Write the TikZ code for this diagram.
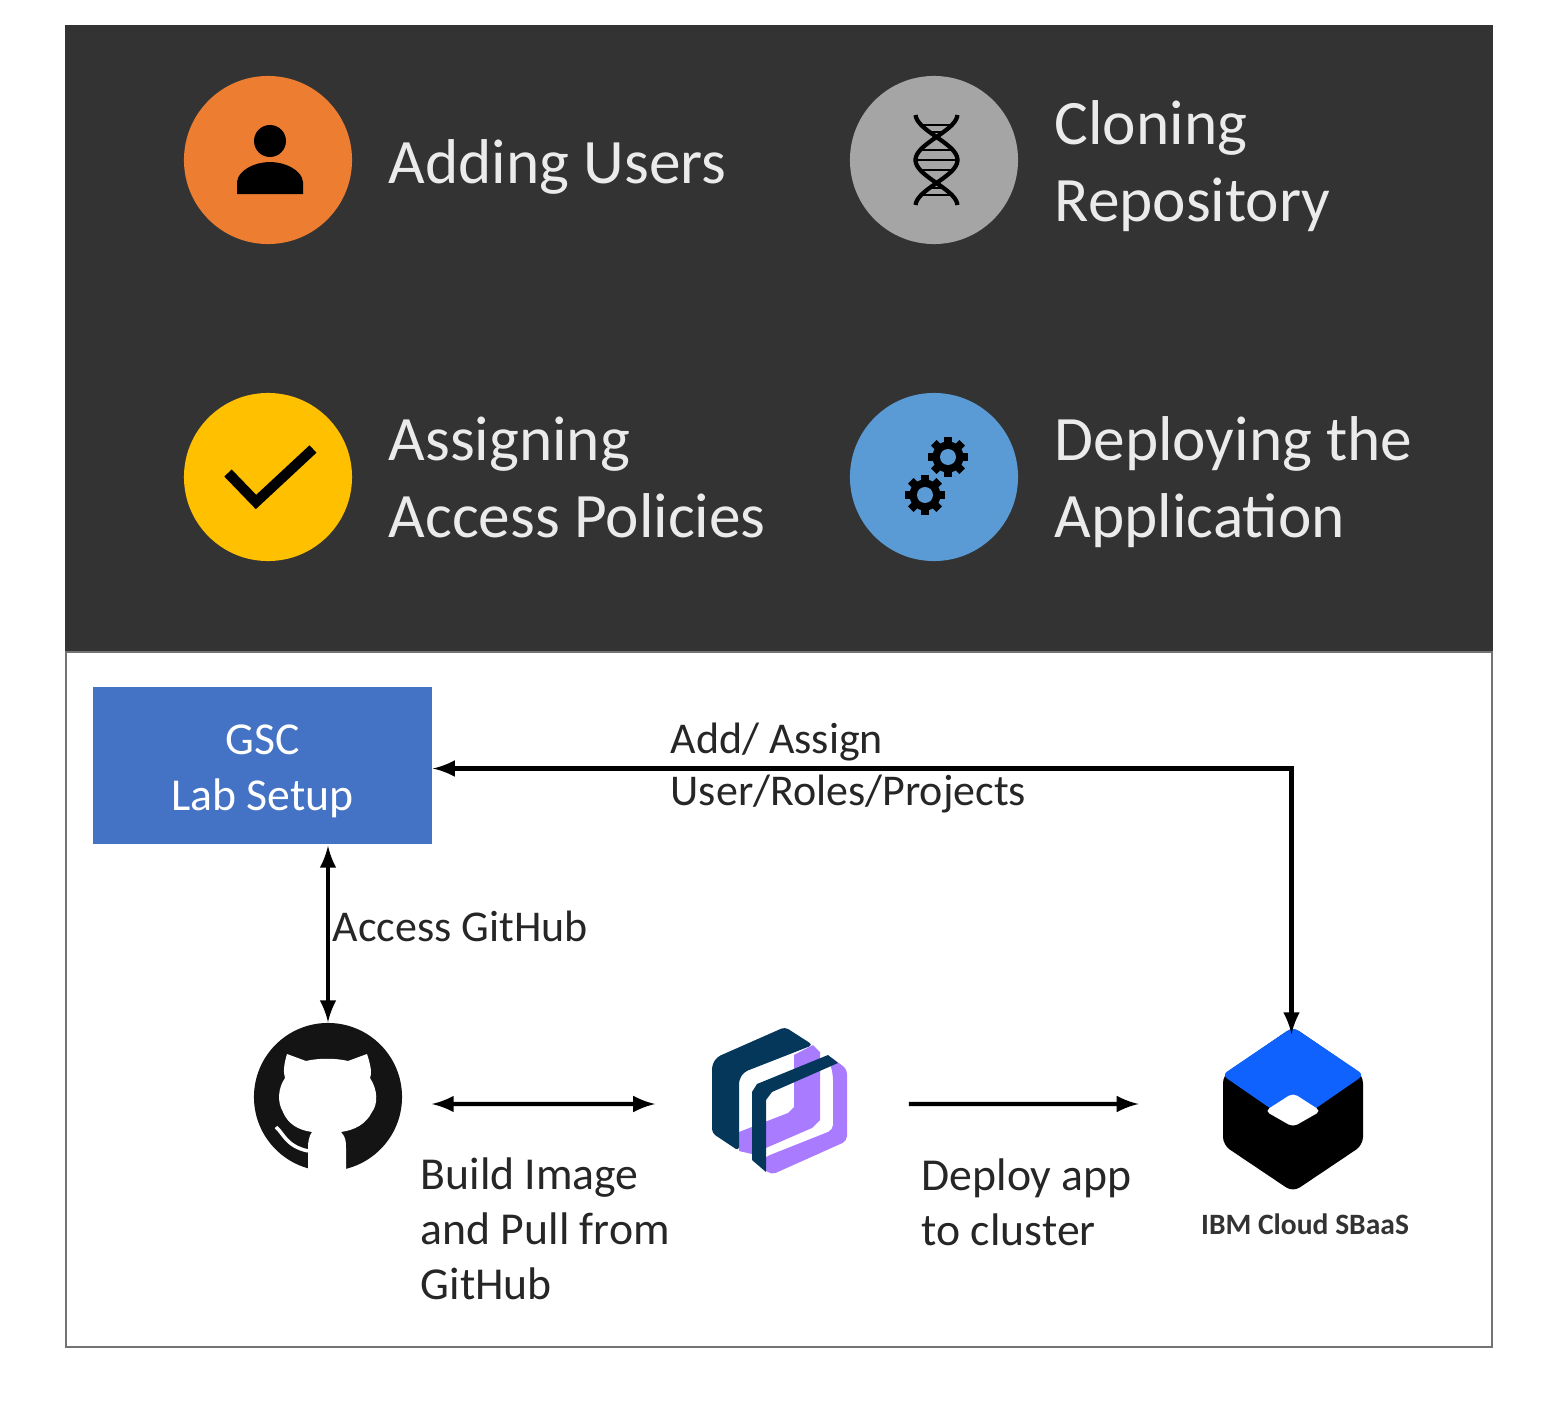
\documentclass[tikz,border=0pt]{standalone}
\usepackage{fontspec}
\setmainfont{Carlito}
\usetikzlibrary{arrows,positioning}
\definecolor{panel}{HTML}{333333}
\definecolor{usersorange}{HTML}{ED7D31}
\definecolor{clonegray}{HTML}{A5A5A5}
\definecolor{policyyellow}{HTML}{FFC000}
\definecolor{deployblue}{HTML}{5B9BD5}
\definecolor{gscblue}{HTML}{4472C4}
\definecolor{ibmblue}{HTML}{0F62FE}
\definecolor{quaydark}{HTML}{05375B}
\definecolor{quaypurple}{HTML}{A97BFF}
\tikzset{
 badge/.style={circle,minimum size=1.68cm,inner sep=0pt,fill=#1},
 bigtext/.style={anchor=west,align=left,inner sep=0pt,text=white!92!black,font=\fontsize{18}{21.9}\selectfont},
 smalltext/.style={anchor=west,align=left,inner sep=0pt,text=black!85,font=\fontsize{13}{15.6}\selectfont},
 slimtext/.style={smalltext,font=\fontsize{12.5}{15}\selectfont},
 logobox/.style={inner sep=0pt,minimum width=#1},
 link/.style={line width=1.15pt,>=latex},
 tooth/.style={fill=black},
}
\begin{document}
\begin{tikzpicture}[x=0.01cm,y=-0.01cm]
 \useasboundingbox (0,0) rectangle (1556,1406);
 % panels
 \fill[panel] (65,25) rectangle (1493,651);
 \draw[black!55,line width=0.6pt] (66,652) rectangle (1492,1347);

 % top legend
 \node[badge=usersorange] (users) at (268,160) {};
 \node[badge=clonegray] (clone) at (934,160) {};
 \node[badge=policyyellow] (policy) at (268,477) {};
 \node[badge=deployblue] (deploy) at (934,477) {};
 \node[bigtext] (userstxt) at (388,167) {Adding Users};
 \node[bigtext] (clonetxt) at (1054,166) {Cloning\\Repository};
 \node[bigtext] (policytxt) at (388,477) {Assigning\\Access Policies};
 \node[bigtext] (deploytxt) at (1054,482) {Deploying the\\Application};

 % person
 \fill (270,141) circle [radius=16];
 \fill (237,194) -- (237,182) .. controls (238,170) and (255,162) .. (270,162) .. controls (285,162) and (302,170) .. (303,182) -- (303,194) -- cycle;
 % dna
 \draw[line width=1.2pt] plot[domain=115:205,samples=40] ({936.5+21*cos((\x-160)*3.91)},\x);
 \draw[line width=1.2pt] plot[domain=115:205,samples=40] ({936.5-21*cos((\x-160)*3.91)},\x);
 \draw[line width=0.8pt] (920,125)--(953,125) (928,132)--(945,132) (919,150)--(954,150) (916,160)--(957,160) (919,170)--(954,170) (928,188)--(945,188) (920,195)--(953,195);
 % check
 \draw[line width=2.9pt] (228,473) -- (256,502) -- (313,449);
 % gears
 \foreach \a in {0,45,...,315} {
  \fill[tooth,rotate around={\a:(948,457)}] (944,437) rectangle (952,446);
  \fill[tooth,rotate around={\a:(925,495)}] (921,475) rectangle (929,484);
 }
 \fill (948,457) circle [radius=15.5];
 \fill (925,495) circle [radius=15.5];
 \fill[deployblue] (948,457) circle [radius=8];
 \fill[deployblue] (925,495) circle [radius=8];

 % lab setup box
 \node[fill=gscblue,text=white,minimum width=3.39cm,minimum height=1.57cm,inner sep=0pt,align=center,font=\fontsize{13}{15.8}\selectfont] (gsc) at (262.5,765.5) {\rule{0pt}{0.41cm}GSC\\Lab Setup};

 % github
 \node[circle,fill=black!92,minimum size=1.48cm,inner sep=0pt] (ghub) at (328,1097) {};
 \fill[white] (287,1054) -- (306,1061) .. controls (318,1058) and (336,1058) .. (348,1061) -- (367,1054) .. controls (371,1066) and (372,1074) .. (370,1078) .. controls (378,1090) and (378,1104) .. (372,1112) .. controls (366,1124) and (355,1130) .. (341,1132) .. controls (346,1137) and (346,1142) .. (346,1148) -- (346,1172) -- (308,1172) -- (308,1148) .. controls (308,1142) and (309,1136) .. (312,1132) .. controls (298,1130) and (288,1124) .. (283,1112) .. controls (277,1102) and (278,1088) .. (285,1078) .. controls (283,1072) and (284,1064) .. (287,1054) -- cycle;
 \draw[white,line width=1pt] (276,1127) .. controls (284,1134) and (286,1146) .. (308,1151);

 % quay
 \node[logobox=1.36cm,minimum height=1.48cm] (quay) at (779,1102) {};
 \fill[quaypurple] (813,1045) -- (820,1052) -- (820,1120) -- (812,1128) -- (752,1154) -- (739,1151) -- (739,1132) -- (788,1113) -- (794,1107) -- (794,1055) -- cycle;
 \fill[quaydark,rounded corners=0.04cm] (785,1027) -- (717,1057) -- (712,1065) -- (712,1133) -- (739,1151) -- (739,1080) -- (744,1072) -- (813,1045) -- cycle;
 \fill[quaypurple,rounded corners=0.05cm] (828,1055) -- (847,1069) -- (847,1141) -- (771,1175) -- (760,1165) -- (765,1157) -- (833,1130) -- (833,1075) -- cycle;
 \fill[quaydark] (828,1055) -- (838,1063) -- (772,1092) -- (766,1100) -- (766,1172) -- (752,1160) -- (752,1092) -- (757,1084) -- cycle;

 % sbaas
 \node[logobox=1.40cm,minimum height=1.55cm] (sbaas) at (1291.5,1112.5) {};
 \fill[rounded corners=0.08cm] (1293,1027) -- (1363,1075) -- (1363,1145) -- (1293,1192) -- (1223,1145) -- (1223,1075) -- cycle;
 \fill[ibmblue,rounded corners=0.06cm] (1293,1027) -- (1364,1075) -- (1293,1124) -- (1222,1075) -- cycle;
 \fill[white,rounded corners=0.05cm] (1293,1093) -- (1321,1111) -- (1293,1127) -- (1265,1111) -- cycle;
 \node[anchor=center,inner sep=0pt,text=black!80,font=\fontsize{8.4}{10}\selectfont\bfseries] (sbaastxt) at (1305,1224) {IBM Cloud SBaaS};

 % connectors
 \draw[link,<->] ([yshift=-0.03cm]gsc.east) -| (sbaas.north);
 \draw[link,<->,shorten <=0.01cm] (ghub.north |- gsc.south) -- (ghub.north);
 \draw[link,<->,shorten <=0.29cm,shorten >=0.55cm] ([yshift=-0.07cm]ghub.east) -- ([yshift=-0.02cm]quay.west);
 \draw[link,->,shorten <=0.61cm,shorten >=0.82cm] ([yshift=-0.02cm]quay.east) -- ([yshift=0.085cm]sbaas.west);

 % labels
 \node[slimtext] (addtxt) at (670,768) {Add/ Assign\\User/Roles/Projects};
 \node[slimtext] (accesstxt) at (332,926) {Access GitHub};
 \node[smalltext] (buildtxt) at (420,1229) {Build Image\\and Pull from\\GitHub};
 \node[smalltext] (deployapptxt) at (921,1202) {Deploy app\\to cluster};
\end{tikzpicture}
\end{document}
